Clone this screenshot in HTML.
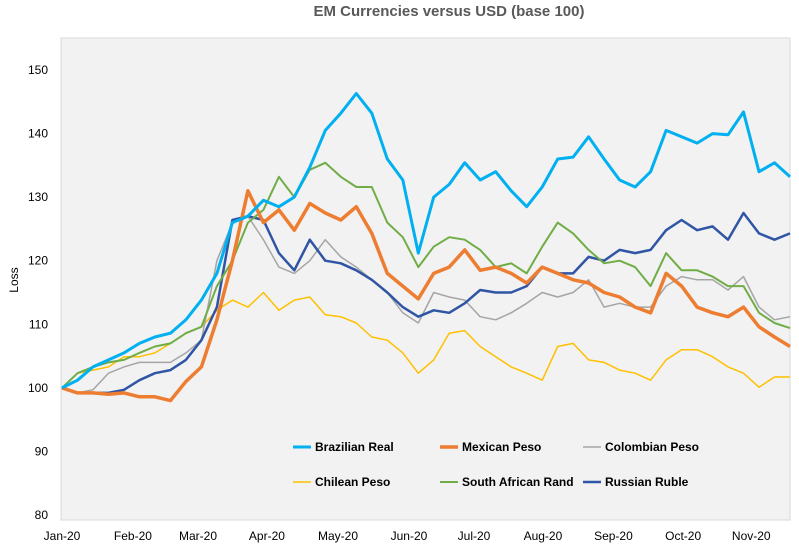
<!DOCTYPE html>
<html><head><meta charset="utf-8"><style>
body{margin:0;background:#fff;font-family:"Liberation Sans",sans-serif}
svg text{font-family:"Liberation Sans",sans-serif}
</style></head><body>
<svg id="chart" width="799" height="552">
<rect x="61" y="38" width="729" height="482" fill="#f2f2f2" stroke="#d9d9d9"/>
<text x="449" y="16" text-anchor="middle" font-size="15" font-weight="bold" fill="#595959">EM Currencies versus USD (base 100)</text>
<text x="18" y="280" text-anchor="middle" font-size="12" fill="#000" transform="rotate(-90 18 280)">Loss</text>
<g id="yticks"></g><g id="xticks"></g><g id="series"></g><g id="legend"></g>
</svg>
<script>
const xLabels=["Jan-20","Feb-20","Mar-20","Apr-20","May-20","Jun-20","Jul-20","Aug-20","Sep-20","Oct-20","Nov-20"];
const xLabelPos=[0,4.58,8.78,13.23,17.82,22.4,26.6,31.05,35.6,40.1,44.5];
const yTicks=[80,90,100,110,120,130,140,150];
const brl=[100,101.2,103.3,104.4,105.5,107,108,108.6,110.7,113.8,118,126,127,129.5,128.5,130,134.7,140.5,143.2,146.3,143.2,136,132.7,121.2,130,132,135.4,132.7,134,131,128.5,131.6,136,136.3,139.5,136,132.7,131.6,134,140.5,139.5,138.5,140,139.8,143.4,134,135.4,133.2];
const mxn=[100,99.2,99.2,99,99.2,98.6,98.6,98,101,103.3,110.7,120,131,126,128,124.8,129,127.5,126.4,128.5,124.3,118,116,114,118,119,121.7,118.5,119,118,116.5,119,118,117,116.5,115,114.3,112.7,111.8,118,116,112.7,111.8,111.2,112.7,109.6,108,106.5];
const cop=[100,99.2,99.7,102.3,103.3,104,104,104,105.5,107.5,120,126,127,123.3,119,118,120,123.3,120.6,119,117,115,111.8,110.2,115,114.3,113.8,111.2,110.7,111.8,113.3,115,114.3,115,117,112.7,113.3,112.7,112.7,116,117.5,117,117,115.4,117.5,112.7,110.7,111.2];
const clp=[100,102.3,102.8,103.3,104.9,104.9,105.5,107,108.6,109.6,112.2,113.8,112.7,115,112.2,113.8,114.3,111.5,111.2,110.2,108,107.5,105.5,102.3,104.4,108.6,109,106.5,104.9,103.3,102.3,101.2,106.5,107,104.4,104,102.8,102.3,101.2,104.4,106,106,104.9,103.3,102.3,100.1,101.7,101.7];
const zar=[100,102.3,103.3,104,104.4,105.5,106.5,107,108.6,109.6,116,120,126,128,133.2,130,134.3,135.4,133.2,131.6,131.6,126,123.7,119,122.2,123.7,123.3,121.7,119,119.6,118,122.2,126,124.3,121.7,119.6,120,119,116,121.2,118.5,118.5,117.5,116,116,111.8,110.2,109.4];
const rub=[100,99.2,99.2,99.2,99.7,101.2,102.3,102.8,104.4,107.5,112.7,126.4,127,126.4,121.2,118.5,123.3,120,119.6,118.5,117,115,112.7,111.2,112.2,111.8,113.3,115.4,115,115,116,119,118,118,120.6,120,121.7,121.2,121.7,124.8,126.4,124.8,125.4,123.3,127.5,124.3,123.3,124.3];
const seriesNames=["Brazilian Real","Mexican Peso","Colombian Peso","Chilean Peso","South African Rand","Russian Ruble"];
const seriesData=[brl,mxn,cop,clp,zar,rub];
const colors=["#00b0f0","#ed7d31","#a5a5a5","#ffc000","#70ad47","#2f55a4"];
const widths=[3,3.5,1.5,1.5,2,2.5];
const NS="http://www.w3.org/2000/svg";
const x0=62,x1=790,y0=515,y1=70;
function xs(i){return x0+i*(x1-x0)/(brl.length-1);}
function ys(v){return y0-(v-80)*(y0-y1)/70;}
function mk(t,a,p){const e=document.createElementNS(NS,t);for(const k in a)e.setAttribute(k,a[k]);p.appendChild(e);return e;}
const yt=document.getElementById('yticks');
yTicks.forEach(v=>{const t=mk('text',{x:48,y:ys(v)+4,'text-anchor':'end','font-size':12,fill:'#000'},yt);t.textContent=v;

});
const xt=document.getElementById('xticks');
xLabels.forEach((l,i)=>{const t=mk('text',{x:xs(xLabelPos[i]),y:540,'text-anchor':'middle','font-size':12,fill:'#000'},xt);t.textContent=l;

});
const sg=document.getElementById('series');
const order=[3,2,5,4,1,0];
order.forEach(k=>{const d=seriesData[k].map((v,i)=>(i?'L':'M')+xs(i).toFixed(1)+','+ys(v).toFixed(1)).join('');
const p=mk('path',{d:d,fill:'none',stroke:colors[k],'stroke-width':widths[k],'stroke-linejoin':'round'},sg);

});
const lg=document.getElementById('legend');
const lx=[293,440,583],ly=[447,482];
seriesNames.forEach((n,k)=>{const x=lx[k%3],y=ly[Math.floor(k/3)];
const g=mk('g',{},lg);


mk('line',{x1:x,x2:x+18,y1:y,y2:y,stroke:colors[k],'stroke-width':widths[k]},g);
const t=mk('text',{x:x+22,y:y+4,'font-size':12,'font-weight':'bold',fill:'#000'},g);t.textContent=n;});
</script>
</body></html>
